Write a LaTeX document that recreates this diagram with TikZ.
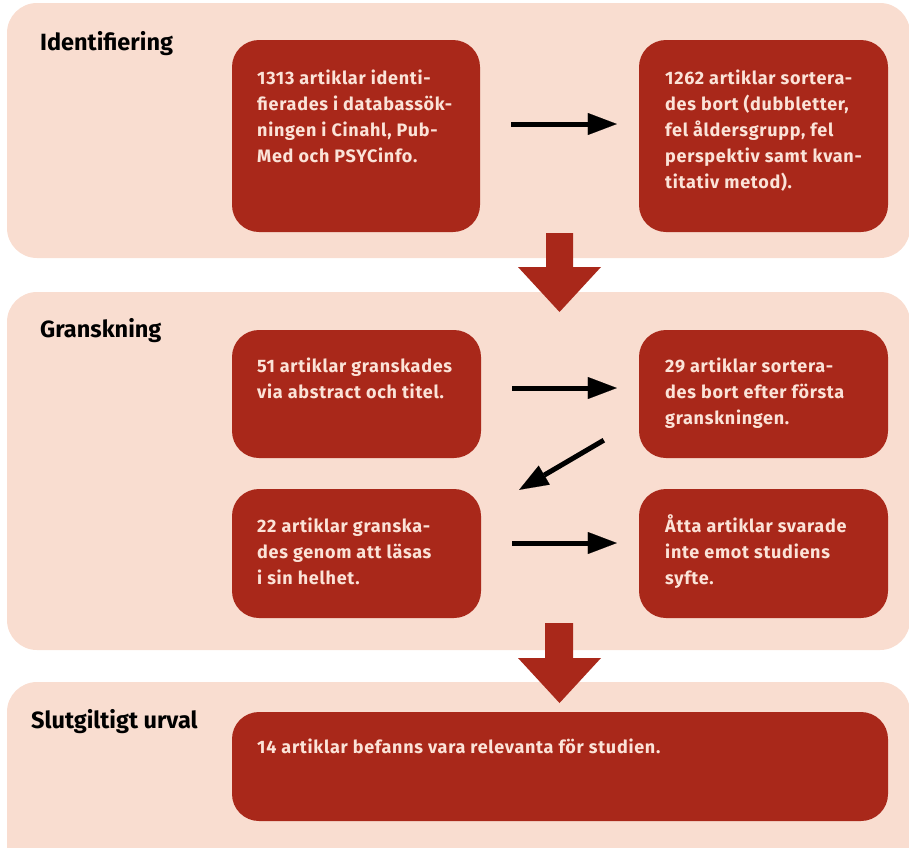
\documentclass[tikz,border=0pt]{standalone}
\usepackage{fontspec}
\setmainfont{Fira Sans}
\newfontfamily\bodyfont[LetterSpace=4]{Fira Sans}
\usetikzlibrary{arrows.meta}
\definecolor{rust}{HTML}{A9281A}
\definecolor{peach}{HTML}{F9DDD0}
\definecolor{pinktext}{HTML}{FBE3D8}
\begin{document}
\begin{tikzpicture}[x=1pt,y=-1pt,
 panel/.style={fill=peach, rounded corners=30pt, inner sep=0, draw=none},
 box/.style={fill=rust, rounded corners=27pt, inner sep=0, draw=none},
 txt/.style={anchor=base west, inner sep=0, text=pinktext, font=\bodyfont\bfseries\fontsize{18}{26}\selectfont},
 ttl/.style={anchor=base west, inner sep=0, font=\bfseries\fontsize{23.5}{26}\selectfont},
 conn/.style={line width=5pt, -{Triangle[length=29pt,width=22pt,line width=0.1pt]}},
 bigarrow/.style={fill=rust}]
\useasboundingbox (0,0) rectangle (909,847);
% panels
\node[panel, minimum width=903pt, minimum height=255pt] (P1) at (458.5,130.5) {};
\node[panel, minimum width=903pt, minimum height=358pt] (P2) at (458.5,471) {};
\node[panel, minimum width=903pt, minimum height=200pt] (P3) at (458.5,782) {};
% titles
\node[ttl] (T1) at (40,50) {Identifiering};
\node[ttl] (T2) at (40,337) {Granskning};
\node[ttl] (T3) at (31,728) {Slutgiltigt urval};
% boxes
\node[box, minimum width=248pt, minimum height=192pt] (A) at (356,136) {};
\node[box, minimum width=249pt, minimum height=192pt] (B) at (763.5,136) {};
\node[box, minimum width=249pt, minimum height=128pt] (C) at (356.5,394) {};
\node[box, minimum width=249pt, minimum height=128pt] (D) at (763.5,394) {};
\node[box, minimum width=249pt, minimum height=129pt] (E) at (356.5,553.5) {};
\node[box, minimum width=249pt, minimum height=129pt] (F) at (763.5,553.5) {};
\node[box, minimum width=656pt, minimum height=109pt] (G) at (560,766.5) {};
% texts
\node[txt] (tA) at (257,84) {\parbox[t]{230pt}{\raggedright 1313 artiklar identi-\\fierades i databassök-\\ningen i Cinahl, Pub-\\Med och PSYCinfo.}};
\node[txt] (tB) at (665,84) {\parbox[t]{230pt}{\raggedright 1262 artiklar sortera-\\des bort (dubbletter,\\fel åldersgrupp, fel\\perspektiv samt kvan-\\titativ metod).}};
\node[txt] (tC) at (257,372) {\parbox[t]{230pt}{\raggedright 51 artiklar granskades\\via abstract och titel.}};
\node[txt] (tD) at (665,372) {\parbox[t]{230pt}{\raggedright 29 artiklar sortera-\\des bort efter första\\granskningen.}};
\node[txt] (tE) at (257,532) {\parbox[t]{230pt}{\raggedright 22 artiklar granska-\\des genom att läsas\\i sin helhet.}};
\node[txt] (tF) at (665,532) {\parbox[t]{230pt}{\raggedright Åtta artiklar svarade\\inte emot studiens\\syfte.}};
\node[txt] (tG) at (257,753) {14 artiklar befanns vara relevanta för studien.};
% black connectors
\draw[conn] ([shift={(31,-12)}]A.east) -- ([shift={(-22,-12)}]B.west);
\draw[conn] ([shift={(31,-6)}]C.east) -- ([shift={(-22,-6)}]D.west);
\draw[conn] ([shift={(-35,-18)}]D.south west) -- ([shift={(38,1)}]E.north east);
\draw[conn] ([shift={(31,-10.5)}]E.east) -- ([shift={(-22,-10.5)}]F.west);
% big arrows between stages
\fill[bigarrow] (546,233) -- (573,233) -- (573,267) -- (601,267) -- (559.5,312) -- (518,267) -- (546,267) -- cycle;
\fill[bigarrow] (545,623) -- (573,623) -- (573,658) -- (601,658) -- (559.5,703) -- (518,658) -- (545,658) -- cycle;
\end{tikzpicture}
\end{document}
